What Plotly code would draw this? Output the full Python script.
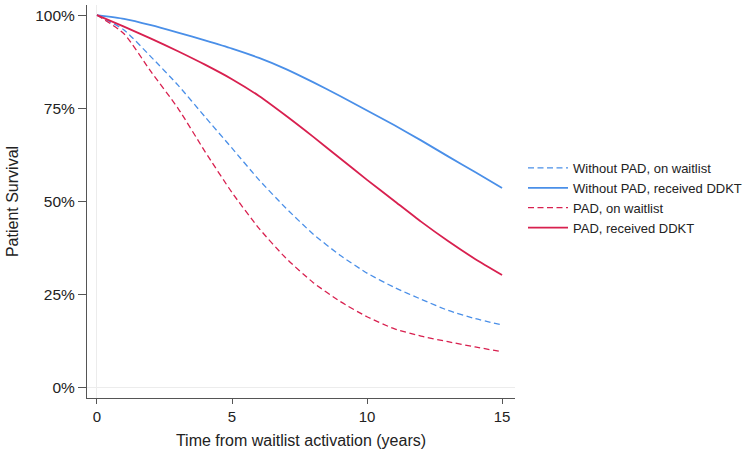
import plotly.graph_objects as go

years = [0, 1, 2, 3, 4, 5, 6, 7, 8, 9, 10, 11, 12, 13, 14, 15]

no_pad_waitlist = [100, 96.0, 88.8, 81.2, 72.7, 64.3, 55.8, 48.2, 41.3, 35.6, 30.8, 27.0, 23.8, 20.8, 18.6, 16.9]
no_pad_ddkt = [100, 99.0, 97.3, 95.3, 93.2, 91.0, 88.5, 85.5, 82.0, 78.3, 74.4, 70.5, 66.4, 62.1, 57.9, 53.6]
pad_waitlist = [100, 95.0, 84.8, 75.0, 63.4, 52.4, 42.8, 34.8, 28.3, 23.2, 19.1, 15.9, 13.9, 12.4, 11.0, 9.7]
pad_ddkt = [100, 96.9, 93.7, 90.3, 86.7, 82.8, 78.3, 73.0, 67.4, 61.6, 55.8, 50.2, 44.6, 39.4, 34.6, 30.3]

series_names = [
    "Without PAD, on waitlist",
    "Without PAD, received DDKT",
    "PAD, on waitlist",
    "PAD, received DDKT",
]
y_ticks = [0, 25, 50, 75, 100]
y_tick_labels = ["0%", "25%", "50%", "75%", "100%"]
x_ticks = [0, 5, 10, 15]

BLUE = "#4a8fe8"
RED = "#d8204f"
DASH = "6px,3.5px"

fig = go.Figure()
styles = [
    (no_pad_waitlist, BLUE, DASH, 1.3),
    (no_pad_ddkt, BLUE, "solid", 1.8),
    (pad_waitlist, RED, DASH, 1.3),
    (pad_ddkt, RED, "solid", 1.8),
]
for name, (vals, color, dash, w) in zip(series_names, styles):
    fig.add_trace(go.Scatter(
        x=years, y=vals, mode="lines", name=name,
        line=dict(color=color, dash=dash, width=w, shape="spline", smoothing=0.6),
    ))

font_family = "Liberation Sans, Arial, Helvetica, sans-serif"
fig.update_layout(
    width=752, height=454,
    margin=dict(l=87, r=237, t=5, b=56, autoexpand=False),
    paper_bgcolor="white", plot_bgcolor="white",
    font=dict(family=font_family, size=15, color="#222"),
    showlegend=True,
    legend=dict(
        x=1.0187, y=0.509, xanchor="left", yanchor="middle",
        font=dict(size=13, color="#222"), bgcolor="rgba(0,0,0,0)",
        tracegroupgap=0, itemwidth=40,
    ),
    xaxis=dict(
        range=[-0.37, 15.48], tickvals=x_ticks, automargin=True,
        showline=True, linecolor="#555", linewidth=1,
        ticks="outside", ticklen=5, tickcolor="#555",
        showgrid=False, zeroline=True, zerolinecolor="#ececec", zerolinewidth=1,
        title=dict(text="Time from waitlist activation (years)", font=dict(size=16), standoff=10),
        tickfont=dict(size=15),
    ),
    yaxis=dict(
        range=[-2.7, 102.7], tickvals=y_ticks, ticktext=y_tick_labels, automargin=False,
        showline=True, linecolor="#555", linewidth=1,
        ticks="outside", ticklen=8, tickcolor="#555",
        showgrid=False, zeroline=True, zerolinecolor="#ececec", zerolinewidth=1,
        title=dict(text="Patient Survival", font=dict(size=16), standoff=12),
        tickfont=dict(size=15.5),
    ),
)

fig.write_html(
    "out.html",
    config={"displayModeBar": False},
    post_script="document.body.style.margin='0';",
)
